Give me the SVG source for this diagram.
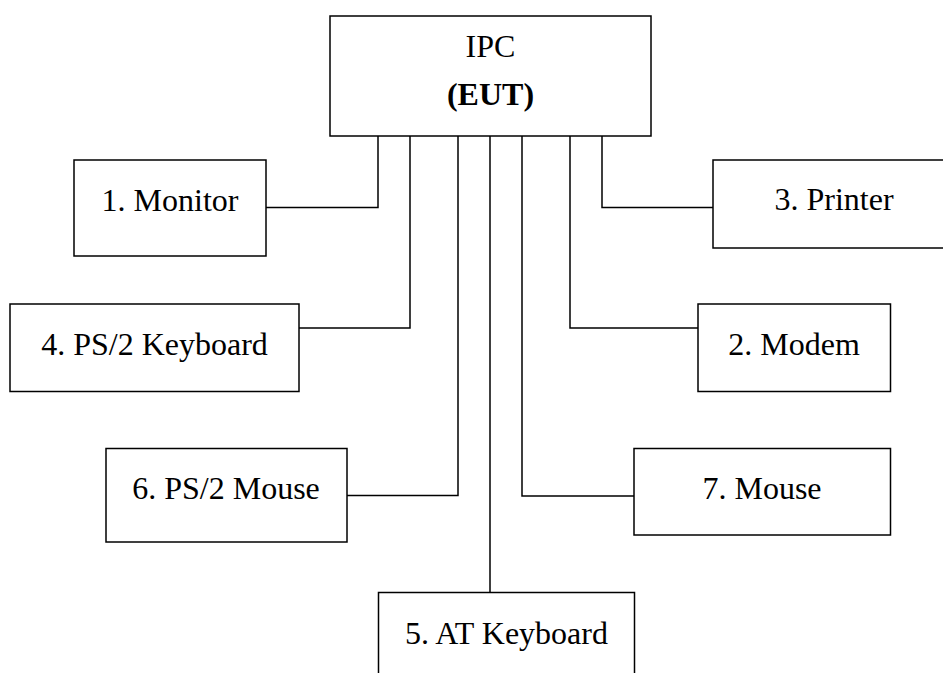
<svg xmlns="http://www.w3.org/2000/svg" width="943" height="673" viewBox="0 0 943 673">
<style>
.box{fill:#fff;stroke:#000;stroke-width:1.5}
.ln{fill:none;stroke:#000;stroke-width:1.5}
</style>
<rect width="943" height="673" fill="#fff"/>
<g id="connectors">
<polyline class="ln" points="378,136 378,207.5 266,207.5"/>
<polyline class="ln" points="410,136 410,328 299,328"/>
<polyline class="ln" points="458,136 458,495.5 347,495.5"/>
<polyline class="ln" points="490,136 490,592"/>
<polyline class="ln" points="522,136 522,496 634,496"/>
<polyline class="ln" points="570,136 570,328 698,328"/>
<polyline class="ln" points="602,136 602,207.5 713,207.5"/>
</g>
<g font-family="Liberation Serif" font-size="32" fill="#000" text-anchor="middle">
<g id="ipc">
<rect class="box" x="330" y="16" width="321" height="120"/>
<text x="490.5" y="57">IPC</text>
<text x="490.5" y="105" font-weight="bold">(EUT)</text>
</g>
<g id="monitor">
<rect class="box" x="74" y="160" width="192" height="96"/>
<text x="170" y="211">1. Monitor</text>
</g>
<g id="printer">
<rect class="box" x="713" y="160" width="243" height="88"/>
<text x="834" y="210">3. Printer</text>
</g>
<g id="ps2keyboard">
<rect class="box" x="10" y="304" width="289" height="87.5"/>
<text x="154.5" y="354.5">4. PS/2 Keyboard</text>
</g>
<g id="modem">
<rect class="box" x="698" y="304" width="192.5" height="87.5"/>
<text x="794" y="355">2. Modem</text>
</g>
<g id="ps2mouse">
<rect class="box" x="106" y="448.5" width="241" height="93.5"/>
<text x="226" y="498.5">6. PS/2 Mouse</text>
</g>
<g id="mouse">
<rect class="box" x="634" y="448.5" width="256.5" height="86.5"/>
<text x="762" y="499">7. Mouse</text>
</g>
<g id="atkeyboard">
<rect class="box" x="378.5" y="592.5" width="256" height="100"/>
<text x="506.5" y="643.5">5. AT Keyboard</text>
</g>
</g>
</svg>
